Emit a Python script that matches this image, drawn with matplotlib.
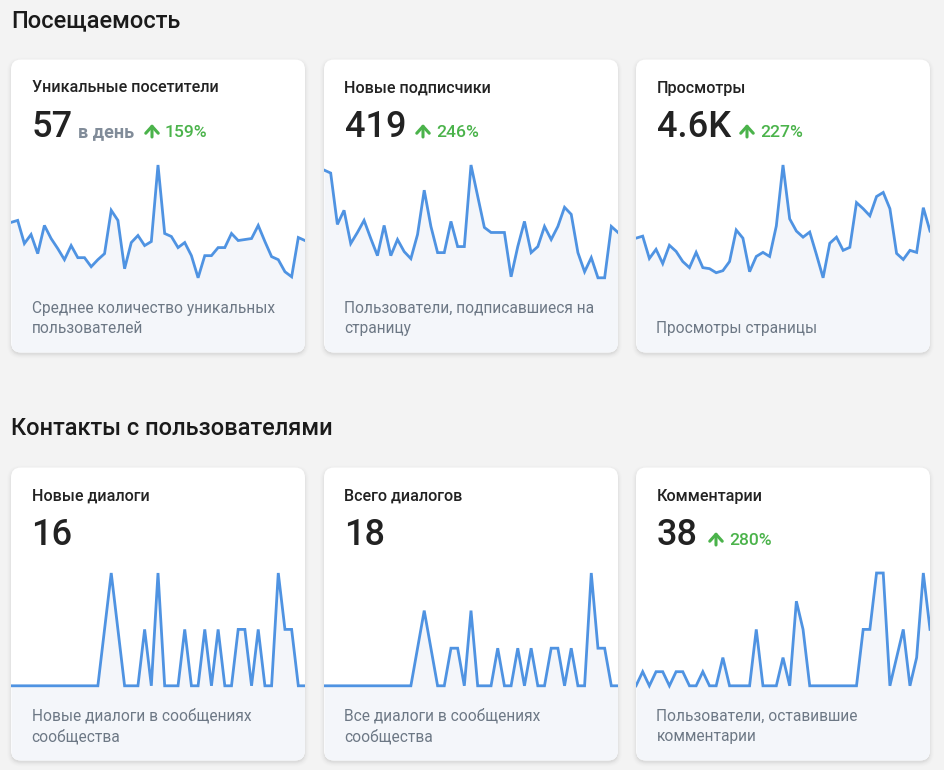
import numpy as np
import matplotlib.pyplot as plt
from matplotlib.patches import FancyBboxPatch

# ---- data ----
sections = ['Посещаемость', 'Контакты с пользователями']

titles = ['Уникальные посетители', 'Новые подписчики', 'Просмотры',
          'Новые диалоги', 'Всего диалогов', 'Комментарии']
numbers = ['57', '419', '4.6K', '16', '18', '38']
units = ['в день', '', '', '', '', '']
growth = ['159%', '246%', '227%', '', '', '280%']
descr = [['Среднее количество уникальных', 'пользователей'],
         ['Пользователи, подписавшиеся на', 'страницу'],
         ['Просмотры страницы'],
         ['Новые диалоги в сообщениях', 'сообщества'],
         ['Все диалоги в сообщениях', 'сообщества'],
         ['Пользователи, оставившие', 'комментарии']]

visitors = [86, 88, 65, 74, 55, 83, 70, 60, 49, 63, 51, 51, 42, 49, 55,
            98, 88, 40, 66, 73, 63, 67, 143, 75, 72, 61, 66, 53, 31, 53,
            53, 61, 61, 75, 68, 69, 70, 83, 67, 52, 49, 37, 32, 71, 68]
subscribers = [108, 105, 54, 68, 35, 46, 58, 40, 23, 53, 23, 39, 27, 20, 44,
               88, 52, 26, 26, 57, 32, 32, 113, 82, 51, 46, 46, 46, 2, 32,
               57, 26, 32, 52, 39, 52, 71, 64, 26, 7, 21, 1, 1, 52, 46]
views = [41, 43, 21, 30, 16, 34, 28, 18, 12, 27, 12, 11, 7, 9, 18,
         49, 41, 8, 23, 27, 23, 53, 113, 60, 48, 42, 47, 25, 2, 36,
         42, 29, 32, 76, 70, 63, 82, 86, 70, 26, 20, 29, 27, 71, 48]
dialogs_new = [0, 0, 0, 0, 0, 0, 0, 0, 0, 0, 0, 0, 0, 0, 1,
               2, 1, 0, 0, 0, 1, 0, 2, 0, 0, 0, 1, 0, 0, 1,
               0, 1, 0, 0, 1, 1, 0, 1, 0, 0, 2, 1, 1, 0, 0]
dialogs_all = [0, 0, 0, 0, 0, 0, 0, 0, 0, 0, 0, 0, 0, 0, 1,
               2, 1, 0, 0, 1, 1, 0, 2, 0, 0, 0, 1, 0, 0, 1,
               0, 1, 0, 0, 1, 1, 0, 1, 0, 0, 3, 1, 1, 0, 0]
comments = [0, 1, 0, 1, 1, 0, 1, 1, 0, 0, 1, 0, 0, 2, 0,
            0, 0, 0, 4, 0, 0, 0, 2, 0, 6, 4, 0, 0, 0, 0,
            0, 0, 0, 0, 4, 4, 8, 8, 0, 2, 4, 0, 2, 8, 4]
series = [visitors, subscribers, views, dialogs_new, dialogs_all, comments]

# ---- layout (pixels) ----
W, H = 944, 770
card_x = [11, 324, 636]
card_w = 294
card_top = [59.5, 467.5]
card_h = 293
arrow_x = [152, 423, 747, None, None, 716]
FONT = ['Roboto', 'DejaVu Sans']
BLUE = '#4f93e2'
FILL = '#f4f6fa'
GREEN = '#4bb34b'
GRAY = '#818c99'

fig = plt.figure(figsize=(W / 100, H / 100), dpi=100)
fig.patch.set_facecolor('#f3f3f3')

bg = fig.add_axes([0, 0, 1, 1])
bg.set_xlim(0, W)
bg.set_ylim(H, 0)
bg.axis('off')

cards = []
for i in range(6):
    x0 = card_x[i % 3]
    y0 = card_top[i // 3]
    # soft shadow
    for k, a in enumerate([0.03, 0.022, 0.016, 0.011, 0.007]):
        s = FancyBboxPatch((x0 - k, y0 + 2 - k), card_w + 2 * k, card_h + 2 * k,
                           boxstyle='round,pad=0,rounding_size=%g' % (10 + k),
                           fc='black', ec='none', alpha=a)
        bg.add_patch(s)
    card = FancyBboxPatch((x0, y0), card_w, card_h,
                          boxstyle='round,pad=0,rounding_size=10',
                          fc='white', ec='none')
    bg.add_patch(card)
    cards.append(card)

# sparklines
for i, vals in enumerate(series):
    x0 = card_x[i % 3]
    y0 = card_top[i // 3]
    ax_top = y0 + 85
    ax_bot = y0 + card_h
    axh = ax_bot - ax_top
    ax = fig.add_axes([x0 / W, 1 - ax_bot / H, card_w / W, axh / H])
    ax.axis('off')
    ax.patch.set_alpha(0)
    v = np.array(vals, dtype=float)
    xs = np.arange(len(v))
    f_hi = (ax_bot - (y0 + 105.5)) / axh
    f_lo = (ax_bot - (y0 + 218.3)) / axh
    span = (v.max() - v.min()) / (f_hi - f_lo)
    lo = v.min() - f_lo * span
    ax.set_xlim(0, len(v) - 1)
    ax.set_ylim(lo, lo + span)
    poly = ax.fill_between(xs, v, lo, color=FILL, lw=0)
    poly.set_clip_path(cards[i])
    ln, = ax.plot(xs, v, color=BLUE, lw=2.0, solid_joinstyle='miter')
    ln.set_clip_path(cards[i])

# text overlay
tx = fig.add_axes([0, 0, 1, 1])
tx.set_xlim(0, W)
tx.set_ylim(H, 0)
tx.axis('off')
tx.patch.set_alpha(0)

tx.text(11, 27.3, sections[0], fontsize=17, family=FONT, weight='medium',
        color='#1a1a1a', va='baseline')
tx.text(11, 435, sections[1], fontsize=17, family=FONT, weight='medium',
        color='#1a1a1a', va='baseline')

for i in range(6):
    x0 = card_x[i % 3] + 20.5
    dy = card_top[i // 3] - card_top[0]
    tx.text(x0, 92.5 + dy, titles[i], fontsize=11.6, family=FONT,
            weight='medium', color='#222222', va='baseline')
    tx.text(x0, 136.7 + dy, numbers[i], fontsize=26, family=FONT,
            weight='medium', color='#222222', va='baseline')
    if units[i]:
        tx.text(x0 + 46, 136.7 + dy, units[i], fontsize=13, family=FONT,
                weight='bold', color=GRAY, va='baseline')
    if growth[i]:
        cx = arrow_x[i]
        tx.annotate('', xy=(cx, 124 + dy), xytext=(cx, 137 + dy),
                    arrowprops=dict(arrowstyle='->,head_length=0.5,head_width=0.45',
                                    color=GREEN, lw=2.2, shrinkA=0, shrinkB=0))
        tx.text(cx + 13, 136.7 + dy, growth[i], fontsize=12.6, family=FONT,
                weight='medium', color=GREEN, va='baseline')
    lines = descr[i]
    for j, line in enumerate(reversed(lines)):
        tx.text(x0, 333.3 + dy - 20.5 * j, line, fontsize=11.2, family=FONT,
                color='#6d7885', va='baseline')

fig.savefig('out.png', dpi=100, facecolor=fig.get_facecolor())
